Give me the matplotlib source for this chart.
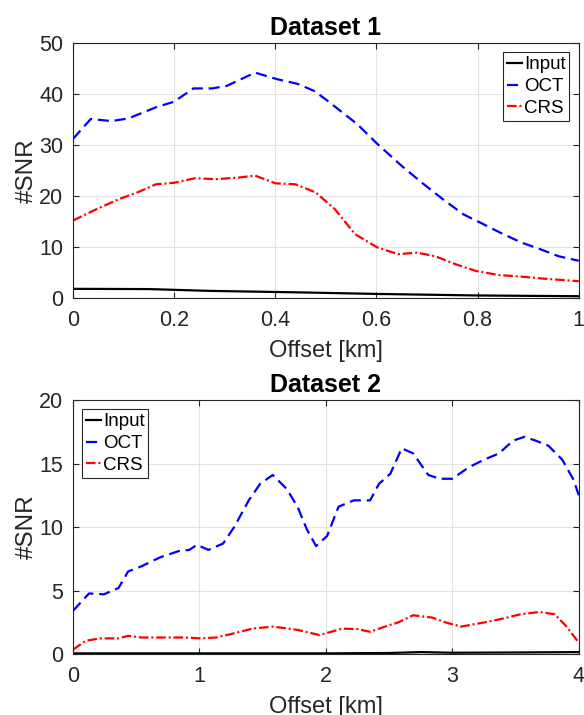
import numpy as np
import matplotlib
matplotlib.use('Agg')
import matplotlib.pyplot as plt

# Dataset 1
x1_oct = [0, 0.035, 0.076, 0.109, 0.164, 0.2, 0.238, 0.275, 0.304, 0.36, 0.404, 0.444, 0.477,
          0.503, 0.562, 0.602, 0.65, 0.69, 0.731, 0.772, 0.805, 0.845, 0.886, 0.923, 0.96, 1.0]
y1_oct = [31.2, 35.1, 34.7, 35.2, 37.4, 38.5, 41.1, 41.1, 41.6, 44.2, 42.9, 42.0, 40.6,
          38.7, 34.1, 30.2, 25.9, 22.6, 19.4, 16.4, 14.8, 12.8, 10.9, 9.6, 8.2, 7.3]
x1_crs = [0, 0.046, 0.091, 0.127, 0.164, 0.2, 0.242, 0.282, 0.326, 0.36, 0.4, 0.44, 0.48,
          0.518, 0.558, 0.602, 0.643, 0.68, 0.716, 0.757, 0.797, 0.842, 0.886, 0.93, 1.0]
y1_crs = [15.2, 17.4, 19.4, 20.7, 22.3, 22.6, 23.5, 23.3, 23.6, 24.0, 22.5, 22.3, 20.7,
          17.4, 12.5, 9.9, 8.6, 8.9, 8.2, 6.6, 5.3, 4.5, 4.2, 3.8, 3.3]
x1_in = [0, 0.15, 0.27, 0.45, 0.6, 0.8, 1.0]
y1_in = [1.8, 1.75, 1.4, 1.1, 0.8, 0.5, 0.35]

# Dataset 2
x2_oct = [0, 0.127, 0.244, 0.36, 0.436, 0.54, 0.686, 0.834, 0.92, 0.98, 1.07, 1.187, 1.275,
          1.39, 1.48, 1.58, 1.69, 1.776, 1.85, 1.923, 2.01, 2.1, 2.22, 2.35, 2.42, 2.51, 2.6,
          2.69, 2.81, 2.9, 3.0, 3.13, 3.25, 3.37, 3.48, 3.57, 3.66, 3.76, 3.87, 3.96, 4.0]
y2_oct = [3.4, 4.77, 4.7, 5.2, 6.5, 6.9, 7.6, 8.1, 8.2, 8.6, 8.2, 8.7, 10.0,
          12.1, 13.4, 14.1, 13.0, 11.6, 9.8, 8.5, 9.3, 11.6, 12.1, 12.1, 13.4, 14.2, 16.2,
          15.8, 14.1, 13.8, 13.8, 14.7, 15.3, 15.8, 16.8, 17.1, 16.8, 16.4, 15.3, 13.7, 12.5]
x2_crs = [0, 0.1, 0.215, 0.36, 0.436, 0.54, 0.716, 0.89, 1.01, 1.13, 1.245, 1.42, 1.58,
          1.776, 1.95, 2.13, 2.25, 2.35, 2.48, 2.57, 2.69, 2.84, 2.95, 3.07, 3.25, 3.4,
          3.54, 3.69, 3.81, 3.9, 4.0]
y2_crs = [0.34, 1.04, 1.23, 1.23, 1.43, 1.3, 1.3, 1.3, 1.23, 1.3, 1.56, 2.0, 2.16,
          1.9, 1.49, 2.0, 1.96, 1.75, 2.2, 2.48, 3.05, 2.87, 2.48, 2.16, 2.48, 2.79,
          3.13, 3.31, 3.13, 2.2, 0.9]
x2_in = [0, 1.0, 2.0, 2.5, 2.75, 3.0, 3.5, 4.0]
y2_in = [0.05, 0.05, 0.05, 0.08, 0.15, 0.1, 0.12, 0.15]

plt.rcParams['font.family'] = ['Liberation Sans', 'DejaVu Sans']

fig = plt.figure(figsize=(5.84, 7.15), dpi=100)
ax1 = fig.add_axes([0.125, 0.5832, 0.866, 0.3566])
ax2 = fig.add_axes([0.125, 0.0853, 0.866, 0.3552])

panels = [
    (ax1, 'Dataset 1', (x1_in, y1_in), (x1_oct, y1_oct), (x1_crs, y1_crs),
     (0, 1), (0, 50), [0, 0.2, 0.4, 0.6, 0.8, 1], ['0', '0.2', '0.4', '0.6', '0.8', '1'],
     [0, 10, 20, 30, 40, 50], 'upper right'),
    (ax2, 'Dataset 2', (x2_in, y2_in), (x2_oct, y2_oct), (x2_crs, y2_crs),
     (0, 4), (0, 20), [0, 1, 2, 3, 4], ['0', '1', '2', '3', '4'],
     [0, 5, 10, 15, 20], 'upper left'),
]

dark = '#262626'
for ax, title, inp, oct_, crs, xl, yl, xt, xtl, yt, loc in panels:
    ax.plot(inp[0], inp[1], '-', color='black', lw=1.6, label='Input')
    ax.plot(oct_[0], oct_[1], '--', color='blue', lw=1.6, dashes=(5, 2.6), label='OCT')
    ax.plot(crs[0], crs[1], '-.', color='red', lw=1.6, dashes=(4.3, 1.3, 0.9, 1.3), label='CRS')
    ax.set_xlim(*xl)
    ax.set_ylim(*yl)
    ax.set_xticks(xt)
    ax.set_xticklabels(xtl)
    ax.set_yticks(yt)
    ax.grid(True, color='#e3e3e3', lw=0.8)
    ax.set_axisbelow(True)
    ax.tick_params(direction='in', top=True, right=True, length=4, colors=dark,
                   labelsize=15.5)
    ax.tick_params(axis='x', pad=8.5)
    ax.tick_params(axis='y', pad=7)
    for s in ax.spines.values():
        s.set_color(dark)
        s.set_linewidth(0.8)
    ax.set_xlabel('Offset [km]', fontsize=17, color=dark, labelpad=6.5)
    ax.set_ylabel('#SNR', fontsize=17.5, color=dark, labelpad=1)
    ax.set_title(title, fontsize=18, fontweight='bold', pad=6)
    leg = ax.legend(loc=loc, fontsize=13.5, handlelength=0.8, handletextpad=0.1,
                    borderpad=0.2, labelspacing=0.25, fancybox=False, framealpha=1,
                    borderaxespad=0.5)
    leg.get_frame().set_edgecolor(dark)
    leg.get_frame().set_linewidth(0.8)

fig.savefig('out.png', dpi=100)
